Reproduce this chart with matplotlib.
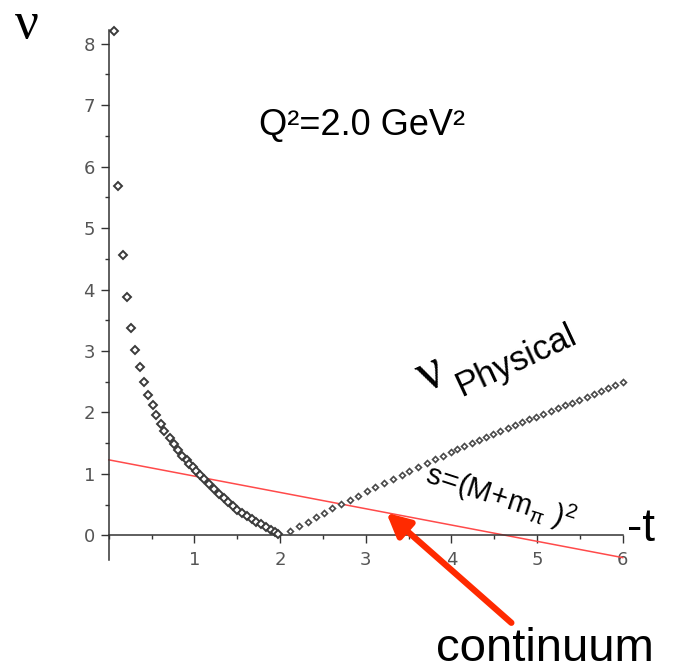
import matplotlib.pyplot as plt
from matplotlib.ticker import MultipleLocator

plt.rcParams["mathtext.fontset"] = "custom"
plt.rcParams["mathtext.rm"] = "Liberation Sans"
plt.rcParams["mathtext.it"] = "Liberation Sans:italic"

# unphysical branch (-t < 2)
low_t = [0.06, 0.11, 0.16, 0.21, 0.26, 0.31, 0.36, 0.41, 0.46, 0.51,
         0.55, 0.61, 0.65, 0.71, 0.76, 0.81, 0.86, 0.91, 0.94, 0.98,
         1.02, 1.07, 1.11, 1.17, 1.23, 1.29, 1.34, 1.39, 1.45, 1.50,
         1.56, 1.61, 1.67, 1.72, 1.78, 1.84, 1.89, 1.94, 1.98]
low_nu = [8.21, 5.69, 4.56, 3.87, 3.38, 3.02, 2.74, 2.50, 2.29, 2.12,
          1.96, 1.82, 1.70, 1.58, 1.48, 1.39, 1.30, 1.22, 1.16, 1.11,
          1.05, 0.98, 0.92, 0.84, 0.76, 0.68, 0.61, 0.54, 0.48, 0.41,
          0.36, 0.31, 0.26, 0.22, 0.18, 0.13, 0.09, 0.06, 0.03]

# physical branch (-t > 2)
phys_t = [2.12, 2.22, 2.32, 2.42, 2.51, 2.61, 2.71, 2.81, 2.91, 3.01,
          3.11, 3.21, 3.32, 3.42, 3.51, 3.61, 3.71, 3.81, 3.90,
          3.99, 4.07, 4.15, 4.24, 4.32, 4.40, 4.49, 4.57, 4.66, 4.74,
          4.82, 4.91, 4.99, 5.07, 5.16, 5.24, 5.33, 5.41, 5.49, 5.58,
          5.66, 5.75, 5.83, 5.91, 6.00]
phys_nu = [0.07, 0.15, 0.22, 0.30, 0.37, 0.44, 0.51, 0.58, 0.65, 0.72,
           0.79, 0.85, 0.92, 0.98, 1.05, 1.11, 1.18, 1.25, 1.30,
           1.36, 1.41, 1.46, 1.51, 1.55, 1.60, 1.65, 1.70, 1.74, 1.79,
           1.84, 1.89, 1.93, 1.98, 2.03, 2.07, 2.12, 2.16, 2.21, 2.26,
           2.30, 2.35, 2.40, 2.45, 2.50]

# threshold s = (M + m_pi)^2
thr_t = [0.0, 6.0]
thr_nu = [1.23, -0.36]

ARROW_TIP = (3.24, 0.37)
ARROW_TAIL = (4.70, -1.42)

fig = plt.figure(figsize=(6.73, 6.71), dpi=100)
ax = fig.add_axes([0.1617, 0.1653, 0.7636, 0.79])

ax.plot(low_t, low_nu, ls="none", marker="D", ms=3.6, mew=1.4,
        mfc="white", mec="#3a3a3a", zorder=3, clip_on=False)
ax.plot(phys_t, phys_nu, ls="none", marker="D", ms=3.0, mew=1.2,
        mfc="white", mec="#4a4a4a", zorder=3, clip_on=False)
ax.plot(thr_t, thr_nu, color="#ff4a4a", lw=1.1, zorder=2, clip_on=False)

ax.set_xlim(0, 6)
ax.set_ylim(-0.4, 8.22)
for side in ("top", "right"):
    ax.spines[side].set_visible(False)
ax.spines["bottom"].set_position(("data", 0))
for side in ("left", "bottom"):
    ax.spines[side].set_color("#333333")
    ax.spines[side].set_linewidth(1.1)

ax.xaxis.set_major_locator(MultipleLocator(1))
ax.xaxis.set_minor_locator(MultipleLocator(0.5))
ax.yaxis.set_major_locator(MultipleLocator(1))
ax.yaxis.set_minor_locator(MultipleLocator(0.5))
ax.set_xticks([1, 2, 3, 4, 5, 6])
ax.tick_params(which="major", length=6, width=1.0, color="#333333",
               labelsize=13, labelcolor="#555555")
ax.tick_params(which="minor", length=3, width=1.0, color="#333333")
ax.tick_params(axis="x", pad=5)
ax.tick_params(axis="y", pad=4)

sans = "Liberation Sans"
serif = "Liberation Serif"

fig.text(0.040, 0.962, "\u03bd", family=serif, fontsize=38,
         ha="center", va="center")
ax.text(2.96, 6.67, "Q\u00b2=2.0 GeV\u00b2", family=sans, fontsize=26,
        ha="center", va="center")
ax.text(3.76, 2.62, "\u03bd", family=serif, fontsize=40, rotation=25,
        ha="center", va="center")
ax.text(4.75, 2.84, "Physical", family=sans, fontsize=25, rotation=25,
        ha="center", va="center", rotation_mode="anchor")
ax.text(4.57, 0.62, r"$\mathrm{s\!=\!(M\!+\!m_{\pi}\ )^2}$", fontsize=21,
        rotation=-18, ha="center", va="center", rotation_mode="anchor")
ax.text(6.21, 0.1, "-t", family=sans, fontsize=33, ha="center",
        va="center", clip_on=False)

ax.annotate("", xy=ARROW_TIP, xytext=ARROW_TAIL, annotation_clip=False,
            arrowprops=dict(arrowstyle="-|>,head_length=1.4,head_width=0.7",
                            lw=4.5, color="#ff2a00", shrinkA=0, shrinkB=0))
ax.text(5.09, -1.85, "continuum", family=sans, fontsize=34,
        ha="center", va="center", clip_on=False)

fig.savefig("out.png", dpi=100)
